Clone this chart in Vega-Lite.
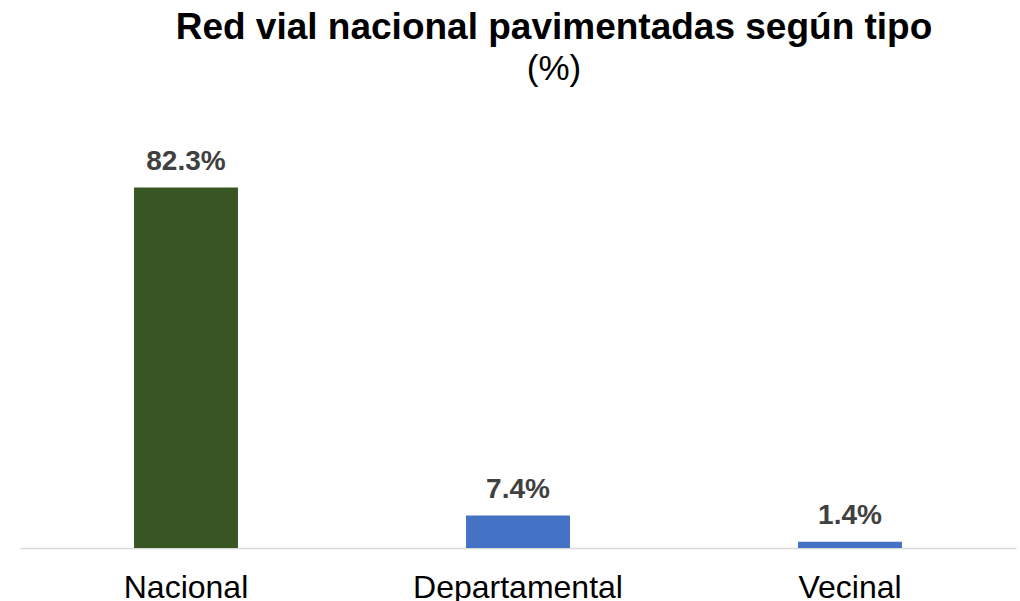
{
  "$schema": "https://vega.github.io/schema/vega-lite/v6.json",
  "autosize": "none",
  "width": 996,
  "height": 438,
  "padding": {"left": 20, "top": 110, "right": 4, "bottom": 53},
  "background": "white",
  "title": {
    "text": "Red vial nacional pavimentadas según tipo",
    "subtitle": "(%)",
    "anchor": "middle",
    "dx": 36,
    "offset": 22,
    "subtitlePadding": 5,
    "font": "Liberation Sans",
    "fontSize": 37,
    "fontWeight": "bold",
    "color": "#000000",
    "subtitleFont": "Liberation Sans",
    "subtitleFontSize": 35,
    "subtitleColor": "#000000"
  },
  "data": {
    "values": [
      {"tipo": "Nacional", "valor": 82.3, "etiqueta": "82.3%"},
      {"tipo": "Departamental", "valor": 7.4, "etiqueta": "7.4%"},
      {"tipo": "Vecinal", "valor": 1.4, "etiqueta": "1.4%"}
    ]
  },
  "encoding": {
    "x": {
      "field": "tipo",
      "type": "nominal",
      "sort": null,
      "scale": {"paddingInner": 0.687, "paddingOuter": 0.3435},
      "axis": {
        "title": null,
        "labelAngle": 0,
        "ticks": false,
        "labelLimit": 0,
        "labelFont": "Liberation Sans",
        "labelFontSize": 32,
        "labelColor": "#000000",
        "labelPadding": 24,
        "domainColor": "#D9D9D9",
        "domainWidth": 1.5,
        "grid": false
      }
    },
    "y": {
      "field": "valor",
      "type": "quantitative",
      "scale": {"domain": [0, 100], "nice": false},
      "axis": null
    }
  },
  "layer": [
    {
      "mark": {"type": "bar"},
      "encoding": {
        "color": {
          "field": "tipo",
          "type": "nominal",
          "scale": {
            "domain": ["Nacional", "Departamental", "Vecinal"],
            "range": ["#375623", "#4472C4", "#4472C4"]
          },
          "legend": null
        }
      }
    },
    {
      "mark": {
        "type": "text",
        "baseline": "alphabetic",
        "dy": -18,
        "font": "Liberation Sans",
        "fontSize": 28,
        "fontWeight": "bold",
        "color": "#404040"
      },
      "encoding": {
        "text": {"field": "etiqueta"}
      }
    }
  ],
  "config": {
    "view": {"stroke": null}
  }
}
